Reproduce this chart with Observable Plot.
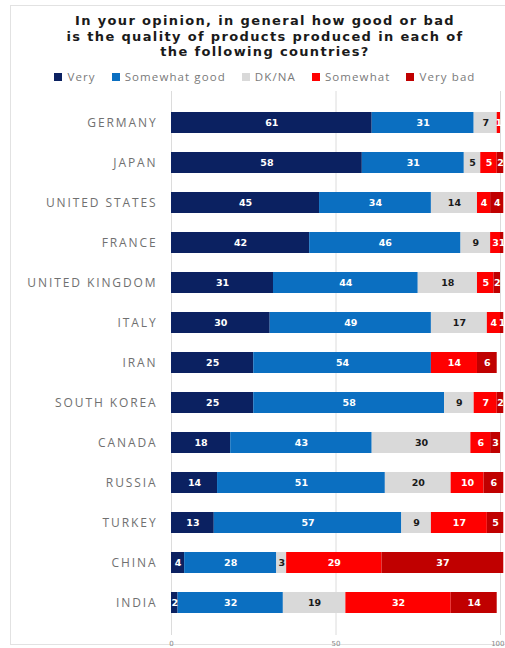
<!DOCTYPE html>
<html>
<head>
<meta charset="utf-8">
<script src="https://cdn.jsdelivr.net/npm/d3@7"></script>
<script src="https://cdn.jsdelivr.net/npm/@observablehq/plot@0.6"></script>
<style>
  html, body { margin: 0; padding: 0; background: #fff; overflow: hidden; }
  #frame { position: absolute; left: 10px; top: 5px; width: 520px; height: 640px; border: 1px solid #e2e2e2; box-sizing: border-box; }
  #head { position: absolute; left: 10px; top: 0; width: 510px; height: 88px; text-align: center; }
  #title { font-family: "DejaVu Sans", sans-serif; font-weight: bold; font-size: 13px; letter-spacing: 1.35px; line-height: 15.5px; color: #1a1a1a; margin-top: 13px; }
  #legend { display: flex; justify-content: center; gap: 16px; margin-top: 9px; font-family: "Open Sans", sans-serif; font-size: 11.5px; letter-spacing: 1.1px; color: #7a7a7a; }
  #legend span.sw { display: inline-block; width: 8px; height: 8px; margin-right: 5px; vertical-align: 0px; }
  #chart { position: absolute; left: 0; top: 88px; }
  #chart svg [aria-label="y-axis tick label"] text { letter-spacing: 1.9px; }
</style>
</head>
<body>
<div id="frame"></div>
<div id="head">
  <div id="title">In your opinion, in general how good or bad<br>is the quality of products produced in each of<br>the following countries?</div>
  <div id="legend"></div>
</div>
<div id="chart"></div>
<script>
const countries = ["GERMANY","JAPAN","UNITED STATES","FRANCE","UNITED KINGDOM","ITALY","IRAN","SOUTH KOREA","CANADA","RUSSIA","TURKEY","CHINA","INDIA"];
const categories = ["Very","Somewhat good","DK/NA","Somewhat","Very bad"];
const colors = ["#0b2161","#0b6fc1","#d9d9d9","#ff0000","#c00000"];
const labelColors = ["#ffffff","#ffffff","#1a1a1a","#ffffff","#ffffff"];
const very         = [61,58,45,42,31,30,25,25,18,14,13, 4, 2];
const somewhatGood = [31,31,34,46,44,49,54,58,43,51,57,28,32];
const dkna         = [ 7, 5,14, 9,18,17, 0, 9,30,20, 9, 3,19];
const somewhatBad  = [ 1, 5, 4, 3, 5, 4,14, 7, 6,10,17,29,32];
const veryBad      = [ 0, 2, 4, 1, 2, 1, 6, 2, 3, 6, 5,37,14];
const xTicks = [0, 50, 100];

const series = [very, somewhatGood, dkna, somewhatBad, veryBad];
const data = [];
countries.forEach((c, i) => {
  categories.forEach((cat, j) => {
    data.push({country: c, cat, value: series[j][i], lc: labelColors[j]});
  });
});

// legend
const legend = document.getElementById("legend");
categories.forEach((cat, j) => {
  const item = document.createElement("div");
  item.innerHTML = `<span class="sw" style="background:${colors[j]}"></span>${cat}`;
  legend.appendChild(item);
});

const axisFont = {tickSize: 0, tickPadding: 6, fontSize: 7, fill: "#888", label: null, fontFamily: "DejaVu Sans, sans-serif"};

const chart = Plot.plot({
  width: 505,
  height: 560,
  marginLeft: 171,
  marginRight: 5,
  marginTop: 3,
  marginBottom: 13,
  x: {domain: [0, 100], label: null},
  y: {domain: countries, padding: 0.47, label: null},
  color: {domain: categories, range: colors},
  style: {background: "transparent"},
  marks: [
    Plot.ruleX(xTicks, {stroke: "#dcdcdc", strokeWidth: 1}),
    Plot.barX(data, {x: "value", y: "country", fill: "cat", order: categories}),
    Plot.text(data.filter(d => d.value > 0), Plot.stackX({
      x: "value", y: "country", z: "cat", order: categories,
      text: "value", fill: "lc",
      fontFamily: "DejaVu Sans, sans-serif", fontWeight: "bold", fontSize: 9.5
    })),
    Plot.axisX(xTicks.slice(0, -1), axisFont),
    Plot.axisX(xTicks.slice(-1), {...axisFont, textAnchor: "end", dx: 4}),
    Plot.axisY({tickSize: 0, tickPadding: 14, fontSize: 12, fill: "#707070", label: null, fontFamily: "Open Sans, sans-serif"})
  ]
});
document.getElementById("chart").appendChild(chart);
</script>
</body>
</html>
